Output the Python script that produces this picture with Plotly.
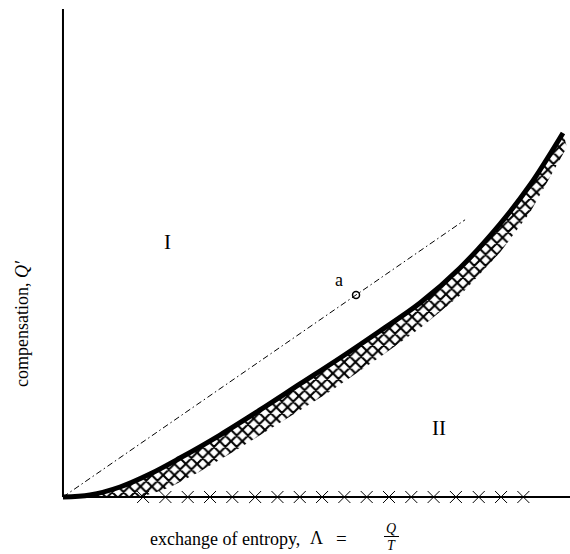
import plotly.graph_objects as go

# boundary curve (upper edge of hatched band)
curve_x = [0.0, 0.533, 1.124, 1.716, 2.308, 3.097, 3.886, 4.675, 5.464, 6.252, 7.041, 7.830, 8.619, 9.211, 9.862]
curve_y = [0.0, 0.041, 0.205, 0.471, 0.799, 1.270, 1.783, 2.316, 2.848, 3.402, 3.975, 4.693, 5.594, 6.393, 7.459]

# lower edge of hatched band
band_x = [0.0, 0.730, 1.519, 1.820, 2.110, 2.702, 3.491, 4.280, 5.266, 6.252, 7.041, 7.830, 8.619, 9.211, 9.941]
band_y = [0.0, 0.0, 0.0, 0.090, 0.200, 0.520, 1.010, 1.520, 2.160, 2.870, 3.460, 4.130, 5.010, 5.830, 7.170]

# crosses along the abscissa
cross_x = [1.58, 2.02, 2.46, 2.90, 3.34, 3.79, 4.23, 4.67, 5.11,
           5.55, 5.99, 6.43, 6.87, 7.31, 7.75, 8.20, 8.64, 9.08]
cross_y = [0.0] * len(cross_x)

# dash-dot line through point a
line_x = [0.0, 7.93]
line_y = [0.0, 5.68]
point_a_x = [5.78]
point_a_y = [4.14]

fig = go.Figure()

# hatched band polygon
poly_x = curve_x + band_x[::-1]
poly_y = curve_y + band_y[::-1]
fig.add_trace(go.Scatter(
    x=poly_x, y=poly_y, mode="lines", fill="toself",
    line=dict(width=0, color="rgba(0,0,0,0)"),
    fillcolor="white",
    fillpattern=dict(shape="x", fgcolor="black", fgopacity=1, bgcolor="white", size=8, solidity=0.45),
    hoverinfo="skip", showlegend=False,
))

# dash-dot line
fig.add_trace(go.Scatter(
    x=line_x, y=line_y, mode="lines",
    line=dict(color="black", width=1, dash="6px,3px,1.5px,3px"),
    showlegend=False, hoverinfo="skip",
))

# thick boundary curve
fig.add_trace(go.Scatter(
    x=curve_x, y=curve_y, mode="lines",
    line=dict(color="black", width=5, shape="spline", smoothing=1.0),
    showlegend=False, hoverinfo="skip",
))

# crosses
fig.add_trace(go.Scatter(
    x=cross_x, y=cross_y, mode="markers",
    marker=dict(symbol="x-thin-open", size=12, color="black", line=dict(color="black", width=1)),
    showlegend=False, hoverinfo="skip", cliponaxis=False,
))

# point a
fig.add_trace(go.Scatter(
    x=point_a_x, y=point_a_y, mode="markers",
    marker=dict(symbol="circle-open", size=7, color="black", line=dict(color="black", width=1.5)),
    showlegend=False, hoverinfo="skip",
))

# axis lines
fig.add_shape(type="line", x0=0, y0=0, x1=0, y1=10, line=dict(color="black", width=2))
fig.add_shape(type="line", x0=0, y0=0, x1=10, y1=0, line=dict(color="black", width=2))

serif = "Liberation Serif, DejaVu Serif, serif"

fig.add_annotation(x=5.44, y=4.45, text="a", showarrow=False, font=dict(family=serif, size=18, color="black"))
fig.add_annotation(x=2.07, y=5.23, text="I", showarrow=False, font=dict(family=serif, size=21, color="black"))
fig.add_annotation(x=7.42, y=1.41, text="II", showarrow=False, font=dict(family=serif, size=21, color="black"))

W, H = 570, 554
ML, MT, MB = 50, 0, 45
PW, PH = W - ML, H - MT - MB

def px(xp):
    return (xp - ML) / PW

def py(yp):
    return (MT + PH - yp) / PH

fig.add_annotation(xref="paper", yref="paper", x=px(148), y=py(539), text="exchange of entropy,",
                   showarrow=False, font=dict(family=serif, size=18, color="black"),
                   xanchor="left", yanchor="middle")
fig.add_annotation(xref="paper", yref="paper", x=px(316), y=py(538), text="Λ",
                   showarrow=False, font=dict(family=serif, size=18, color="black"),
                   xanchor="center", yanchor="middle")
fig.add_annotation(xref="paper", yref="paper", x=px(341), y=py(538), text="=",
                   showarrow=False, font=dict(family=serif, size=19, color="black"),
                   xanchor="center", yanchor="middle")
fig.add_annotation(xref="paper", yref="paper", x=px(391), y=py(528), text="<i>Q</i>",
                   showarrow=False, font=dict(family=serif, size=14, color="black"),
                   xanchor="center", yanchor="middle")
fig.add_annotation(xref="paper", yref="paper", x=px(391), y=py(545), text="<i>T</i>",
                   showarrow=False, font=dict(family=serif, size=14, color="black"),
                   xanchor="center", yanchor="middle")
fig.add_shape(type="line", xref="paper", yref="paper", x0=px(384), x1=px(399), y0=py(536.5), y1=py(536.5),
              line=dict(color="black", width=1))
fig.add_annotation(xref="paper", yref="paper", x=px(22), y=py(324), text="compensation, <i>Q′</i>",
                   showarrow=False, textangle=-90, font=dict(family=serif, size=18, color="black"),
                   xanchor="center", yanchor="middle")

fig.update_layout(
    width=W, height=H,
    margin=dict(l=ML, r=0, t=MT, b=MB),
    paper_bgcolor="white", plot_bgcolor="white",
    xaxis=dict(range=[-0.256, 10.0], visible=False, fixedrange=True),
    yaxis=dict(range=[-0.246, 10.184], visible=False, fixedrange=True),
    showlegend=False,
)

fig.write_html("out.html", config={"displayModeBar": False},
               post_script="document.body.style.margin='0';document.body.style.padding='0';")
